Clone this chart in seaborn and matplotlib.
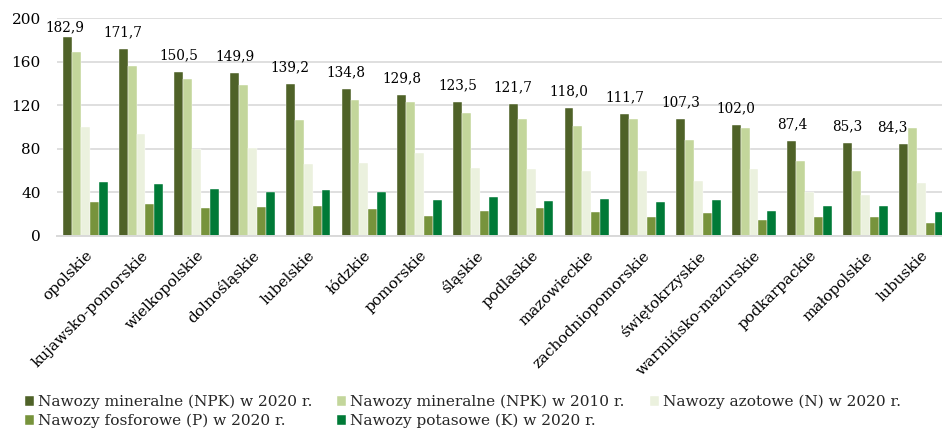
import matplotlib
matplotlib.use("Agg")
import matplotlib.pyplot as plt
import seaborn as sns
import pandas as pd

regions = ["opolskie", "kujawsko-pomorskie", "wielkopolskie", "dolnośląskie", "lubelskie",
           "łódzkie", "pomorskie", "śląskie", "podlaskie", "mazowieckie",
           "zachodniopomorskie", "świętokrzyskie", "warmińsko-mazurskie", "podkarpackie",
           "małopolskie", "lubuskie"]

npk_2020 = [182.9, 171.7, 150.5, 149.9, 139.2, 134.8, 129.8, 123.5, 121.7, 118.0,
            111.7, 107.3, 102.0, 87.4, 85.3, 84.3]
npk_2010 = [169.5, 156.5, 144.5, 139.0, 106.8, 125.0, 123.5, 113.0, 107.2, 101.0,
            107.5, 88.5, 99.3, 69.0, 59.8, 99.3]
n_2020 = [100.0, 93.5, 79.5, 81.0, 66.5, 67.5, 76.0, 62.5, 61.5, 59.5,
          60.0, 50.5, 62.0, 40.0, 38.0, 48.5]
p_2020 = [31.5, 29.5, 26.0, 26.5, 28.0, 25.0, 18.5, 23.0, 26.0, 22.0,
          17.5, 21.0, 15.0, 17.5, 17.5, 11.8]
k_2020 = [50.0, 47.5, 43.0, 40.5, 42.5, 40.0, 33.5, 35.8, 32.0, 33.8,
          31.5, 33.5, 22.8, 27.5, 27.5, 22.0]

series_names = ["Nawozy mineralne (NPK) w 2020 r.", "Nawozy mineralne (NPK) w 2010 r.",
                "Nawozy azotowe (N) w 2020 r.", "Nawozy fosforowe (P) w 2020 r.",
                "Nawozy potasowe (K) w 2020 r."]
colors = ["#4F6228", "#C3D69B", "#EBF1DE", "#77933C", "#007A37"]

all_series = [npk_2020, npk_2010, n_2020, p_2020, k_2020]
rows = []
for name, vals in zip(series_names, all_series):
    for r, v in zip(regions, vals):
        rows.append({"region": r, "series": name, "value": v})
df = pd.DataFrame(rows)

sns.set_theme(style="white")
plt.rcParams["font.family"] = ["DejaVu Serif"]

fig = plt.figure(figsize=(9.42, 4.30), dpi=100)
ax = fig.add_axes([0.0609, 0.4512, 0.9466, 0.5062])

sns.barplot(data=df, x="region", y="value", hue="series", hue_order=series_names,
            order=regions, palette=colors, saturation=1, width=0.8,
            edgecolor="white", linewidth=0.3, ax=ax)

ax.set_ylim(0, 200)
ax.set_yticks([0, 40, 80, 120, 160, 200])
ax.set_xlim(-0.5, len(regions) - 0.5)
ax.set_xlabel("")
ax.set_ylabel("")
ax.yaxis.grid(True, color="#D9D9D9", linewidth=1.2)
ax.set_axisbelow(True)
for s in ["top", "right", "left"]:
    ax.spines[s].set_visible(False)
ax.spines["bottom"].set_color("#D9D9D9")
ax.spines["bottom"].set_linewidth(1.4)
ax.tick_params(axis="y", length=0, pad=12, labelsize=11, labelcolor="#000000")
ax.tick_params(axis="x", length=0, pad=9, labelsize=11, labelcolor="#000000")
plt.setp(ax.get_xticklabels(), rotation=45, ha="right", rotation_mode="anchor")

labels = [f"{v:.1f}".replace(".", ",") for v in npk_2020]
texts = ax.bar_label(ax.containers[0], labels=labels, padding=7, fontsize=9.8, color="#000000")
texts[0].xyann = (-2, 2)
texts[-1].xyann = (-8, 7)

handles, lbls = ax.get_legend_handles_labels()
ax.get_legend().remove()
order = [0, 3, 1, 4, 2]
fig.legend([handles[i] for i in order], [lbls[i] for i in order],
           loc="upper left", bbox_to_anchor=(0.0265, 0.082), ncol=3, frameon=False,
           prop={"family": ["DejaVu Serif"], "size": 11.1},
           handlelength=0.6, handleheight=0.6, handletextpad=0.25,
           columnspacing=1.6, labelspacing=0.3, borderaxespad=0, borderpad=0)

fig.savefig("out.png", dpi=100)
